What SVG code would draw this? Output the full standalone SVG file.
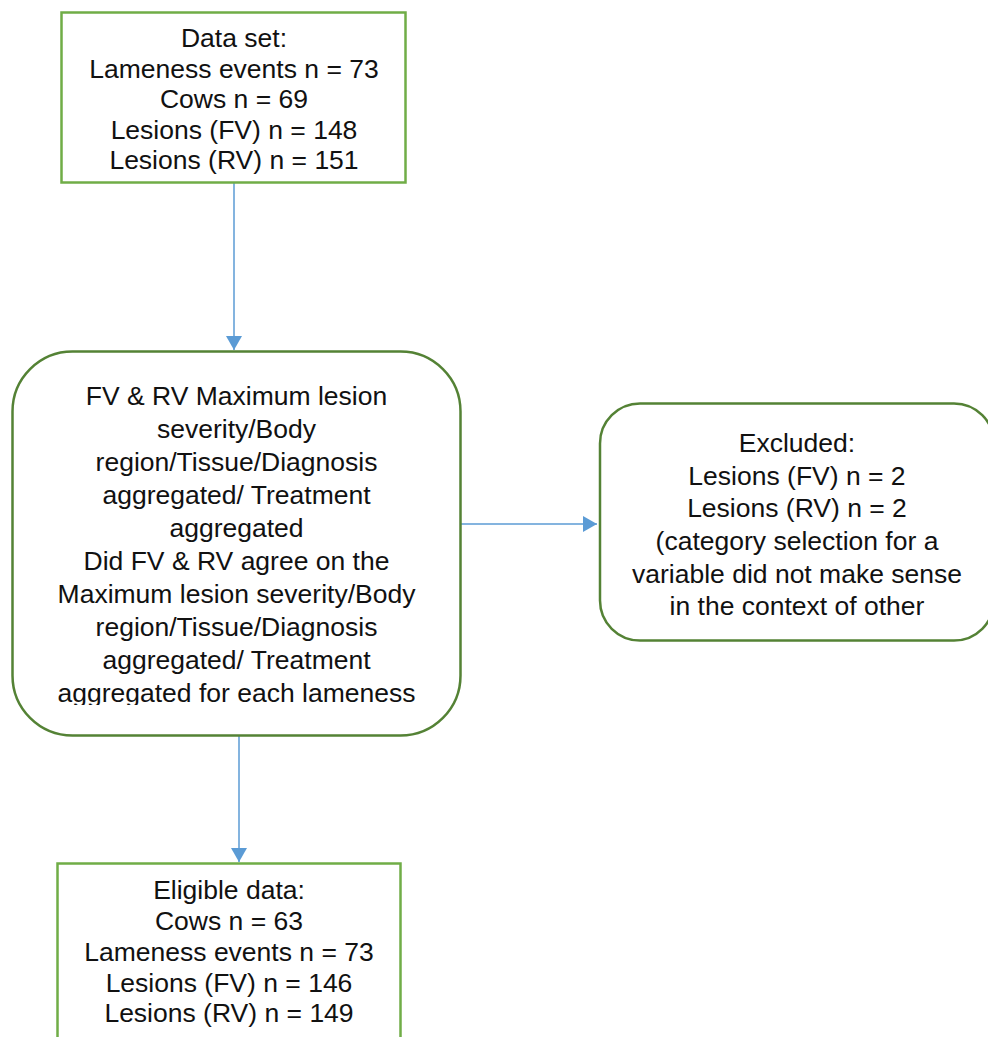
<svg xmlns="http://www.w3.org/2000/svg" width="988" height="1037" viewBox="0 0 988 1037">
  <style>
    .lbl { font-family: "Liberation Sans", Arial, sans-serif; font-size: 26.5px; fill: #111; text-anchor: middle; }
    .boxL { fill: #ffffff; stroke: #70AD47; stroke-width: 2.5; }
    .boxD { fill: #ffffff; stroke: #548235; stroke-width: 2.5; }
    .conn { stroke: #5B9BD5; stroke-width: 1.5; fill: none; marker-end: url(#ah); }
  </style>
  <defs>
    <marker id="ah" markerWidth="14" markerHeight="16" refX="14" refY="8" orient="auto" markerUnits="userSpaceOnUse">
      <path d="M0,0 L14,8 L0,16 z" fill="#5B9BD5"/>
    </marker>
    <clipPath id="midClip">
      <rect x="12" y="351" width="449" height="354"/>
    </clipPath>
  </defs>
  <rect width="988" height="1037" fill="#ffffff"/>

  <g id="connectors">
    <line class="conn" x1="234" y1="183" x2="234" y2="350"/>
    <line class="conn" x1="461" y1="524" x2="597" y2="524"/>
    <line class="conn" x1="239" y1="736" x2="239" y2="862"/>
  </g>

  <g id="node-dataset">
    <rect class="boxL" x="61.5" y="12.5" width="344" height="170"/>
    <text class="lbl" x="234" y="47">Data set:</text>
    <text class="lbl" x="234" y="77.5">Lameness events n = 73</text>
    <text class="lbl" x="234" y="108">Cows n = 69</text>
    <text class="lbl" x="234" y="138.5">Lesions (FV) n = 148</text>
    <text class="lbl" x="234" y="169">Lesions (RV) n = 151</text>
  </g>

  <g id="node-agreement">
    <rect class="boxD" x="12.5" y="351.5" width="448" height="384" rx="60" ry="60"/>
    <g clip-path="url(#midClip)">
      <text class="lbl" x="236.5" y="405">FV &amp; RV Maximum lesion</text>
      <text class="lbl" x="236.5" y="438">severity/Body</text>
      <text class="lbl" x="236.5" y="471">region/Tissue/Diagnosis</text>
      <text class="lbl" x="236.5" y="504">aggregated/ Treatment</text>
      <text class="lbl" x="236.5" y="537">aggregated</text>
      <text class="lbl" x="236.5" y="570">Did FV &amp; RV agree on the</text>
      <text class="lbl" x="236.5" y="603">Maximum lesion severity/Body</text>
      <text class="lbl" x="236.5" y="636">region/Tissue/Diagnosis</text>
      <text class="lbl" x="236.5" y="669">aggregated/ Treatment</text>
      <text class="lbl" x="236.5" y="702">aggregated for each lameness</text>
    </g>
  </g>

  <g id="node-excluded">
    <rect class="boxD" x="600" y="403.5" width="394" height="237" rx="40" ry="40"/>
    <text class="lbl" x="797" y="452">Excluded:</text>
    <text class="lbl" x="797" y="484.5">Lesions (FV) n = 2</text>
    <text class="lbl" x="797" y="517">Lesions (RV) n = 2</text>
    <text class="lbl" x="797" y="550">(category selection for a</text>
    <text class="lbl" x="797" y="582.5">variable did not make sense</text>
    <text class="lbl" x="797" y="615">in the context of other</text>
  </g>

  <g id="node-eligible">
    <rect class="boxL" x="57.5" y="863.5" width="343" height="190"/>
    <text class="lbl" x="229" y="899">Eligible data:</text>
    <text class="lbl" x="229" y="930">Cows n = 63</text>
    <text class="lbl" x="229" y="960.5">Lameness events n = 73</text>
    <text class="lbl" x="229" y="991.5">Lesions (FV) n = 146</text>
    <text class="lbl" x="229" y="1022">Lesions (RV) n = 149</text>
  </g>
</svg>
